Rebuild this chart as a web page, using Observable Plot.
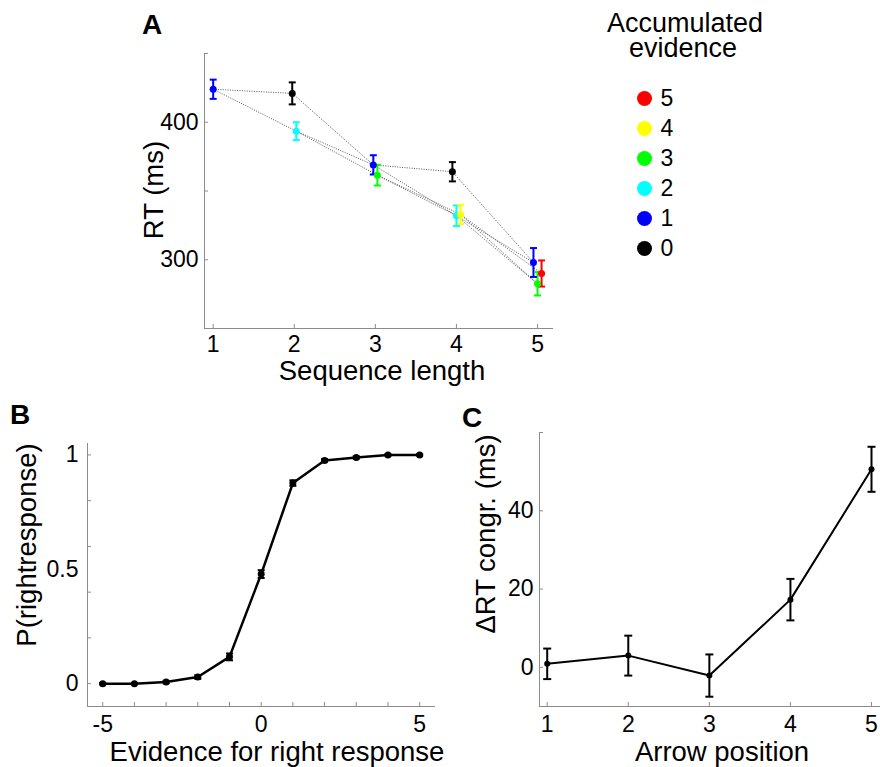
<!DOCTYPE html>
<html><head><meta charset="utf-8">
<script src="https://cdn.jsdelivr.net/npm/d3@7"></script>
<script src="https://cdn.jsdelivr.net/npm/@observablehq/plot@0.6"></script>
<style>
html,body{margin:0;padding:0;background:#fff;}
#root{position:relative;width:880px;height:767px;overflow:hidden;font-family:"Liberation Sans",Arial,sans-serif;color:#000;background:#fff;}
.lbl{position:absolute;white-space:nowrap;line-height:1;}
.plot{position:absolute;}
</style></head><body><div id="root"></div>
<script>
// ---------- Panel A data ----------
const aSeqLength = [1, 2, 2, 3, 3, 4, 4, 4, 5, 5, 5];
const aEvidence  = [1, 0, 2, 1, 3, 0, 2, 4, 1, 3, 5];
const aRT        = [424, 421, 393.5, 369, 361.5, 364, 332, 333, 298, 282.5, 290];
const aErr       = [7, 8, 6.5, 7, 7.5, 7, 7.5, 7, 10.5, 8.5, 9.5];
const aXTicks = [1, 2, 3, 4, 5];
const aYTicks = [250, 300, 350, 400, 450];
const aYLabels = [300, 400];

// legend
const evidenceLevels = [5, 4, 3, 2, 1, 0];
const evidenceColors = ["#ff0000", "#ffff00", "#00ff00", "#00ffff", "#0000ff", "#000000"];

// ---------- Panel B data ----------
const bEvidence = [-5, -4, -3, -2, -1, 0, 1, 2, 3, 4, 5];
const bP        = [0, 0, 0.007, 0.029, 0.117, 0.479, 0.877, 0.976, 0.989, 1.0, 1.0];
const bErr      = [0.003, 0.003, 0.005, 0.008, 0.015, 0.017, 0.012, 0.006, 0.005, 0.003, 0.003];
const bXTicks = [-5, -4, -3, -2, -1, 0, 1, 2, 3, 4, 5];
const bXLabels = [-5, 0, 5];
const bYTicks = [0, 0.2, 0.4, 0.6, 0.8, 1];
const bYLabels = [0, 0.5, 1];

// ---------- Panel C data ----------
const cPosition = [1, 2, 3, 4, 5];
const cDeltaRT  = [0.9, 3.0, -2.1, 17.3, 50.6];
const cErr      = [3.9, 5.1, 5.4, 5.3, 5.75];
const cXTicks = [1, 2, 3, 4, 5];
const cYTicks = [0, 20, 40, 60];
const cYLabels = [0, 20, 40];

const root = document.getElementById("root");
const FONT = '"Liberation Sans", Arial, sans-serif';
const axisGray = "#8c8c8c";
const LABEL_SIZE = 27.5;

const capSymbol = {draw(ctx, size) { const r = Math.sqrt(size / Math.PI); ctx.moveTo(-r, 0); ctx.lineTo(r, 0); }};

function place(svg, left, top) {
  svg.classList.add("plot");
  svg.style.left = left + "px";
  svg.style.top = top + "px";
  root.appendChild(svg);
}
function label(text, {x, y, size = LABEL_SIZE, bold = false, rotate = false, center = true, lh = null}) {
  const d = document.createElement("div");
  d.className = "lbl";
  d.textContent = text;
  d.style.fontSize = size + "px";
  if (lh) d.style.lineHeight = lh + "px";
  if (bold) d.style.fontWeight = "bold";
  d.style.left = x + "px";
  d.style.top = y + "px";
  if (rotate) d.style.transform = "translate(-50%,-50%) rotate(-90deg)";
  else if (center) d.style.transform = "translateX(-50%)";
  root.appendChild(d);
}

function axesMarks({xd, yd, xTicks, yTicks, xLabels, yLabels, xPad, yPad}) {
  return [
    Plot.ruleX([xd[0]], {stroke: axisGray, strokeWidth: 1}),
    Plot.ruleY([yd[0]], {stroke: axisGray, strokeWidth: 1}),
    Plot.axisX({ticks: xTicks, tickSize: -4, stroke: axisGray, tickFormat: () => "", label: null}),
    Plot.axisY({ticks: yTicks, tickSize: -4, stroke: axisGray, tickFormat: () => "", label: null}),
    Plot.axisX({ticks: xLabels, tickSize: 0, tickPadding: xPad, fontSize: 23, fill: "#000", label: null, tickFormat: d => String(d)}),
    Plot.axisY({ticks: yLabels, tickSize: 0, tickPadding: yPad, fontSize: 23, fill: "#000", label: null, tickFormat: d => String(d)})
  ];
}

// ---------- Panel A ----------
const colorOf = e => evidenceColors[evidenceLevels.indexOf(e)];
const A = aSeqLength.map((n, i) => ({n, e: aEvidence[i], rt: aRT[i], err: aErr[i]}));
const meanE = d3.rollup(A, v => d3.mean(v, d => d.e), d => d.n);
A.forEach(d => { d.x = d.n + (d.e - meanE.get(d.n)) * 0.025; d.c = colorOf(d.e); });
const edges = [];
for (const a of A) for (const b of A) if (b.n === a.n + 1 && Math.abs(b.e - a.e) === 1) edges.push({a, b});

const axd = [0.893, 5.197], ayd = [250, 450];
const plotA = Plot.plot({
  width: 423, height: 318, marginLeft: 64, marginRight: 10, marginTop: 13, marginBottom: 30,
  x: {domain: axd}, y: {domain: ayd}, color: {type: "identity"},
  style: {fontFamily: FONT, fontSize: "23px", background: "transparent", overflow: "visible", color: "#000"},
  marks: [
    ...axesMarks({xd: axd, yd: ayd, xTicks: aXTicks, yTicks: aYTicks, xLabels: aXTicks, yLabels: aYLabels, xPad: 7, yPad: 6}),
    Plot.link(edges, {x1: d => d.a.x, y1: d => d.a.rt, x2: d => d.b.x, y2: d => d.b.rt, stroke: "#555", strokeWidth: 1, strokeDasharray: "1,1.4"}),
    Plot.ruleX(A, {x: "x", y1: d => d.rt - d.err, y2: d => d.rt + d.err, stroke: "c", strokeWidth: 2}),
    Plot.dot(A, {x: "x", y: d => d.rt - d.err, r: 3.5, symbol: capSymbol, stroke: "c", fill: "none", strokeWidth: 2}),
    Plot.dot(A, {x: "x", y: d => d.rt + d.err, r: 3.5, symbol: capSymbol, stroke: "c", fill: "none", strokeWidth: 2}),
    Plot.dot(A, {x: "x", y: "rt", r: 3.5, fill: "c", stroke: null})
  ]
});
place(plotA, 140, 40);

// legend
const legend = Plot.plot({
  width: 120, height: 190, margin: 0,
  y: {type: "point", domain: evidenceLevels, range: [17, 169], padding: 0, axis: null},
  color: {type: "identity"},
  style: {fontFamily: FONT, fontSize: "23px", background: "transparent", overflow: "visible"},
  marks: [
    Plot.dot(evidenceLevels, {y: d => d, frameAnchor: "left", dx: 24, r: 7.5, fill: (d, i) => evidenceColors[i], stroke: null}),
    Plot.text(evidenceLevels, {y: d => d, text: d => String(d), frameAnchor: "left", dx: 40, textAnchor: "start", fontSize: 23, fill: "#000"})
  ]
});
place(legend, 620, 80);

// ---------- Panel B ----------
const B = bEvidence.map((x, i) => ({x, p: bP[i], err: bErr[i]}));
const bxd = [-5.48, 5.5], byd = [-0.1, 1.05];
const plotB = Plot.plot({
  width: 440, height: 346, marginLeft: 87, marginRight: 5, marginTop: 43, marginBottom: 40,
  x: {domain: bxd}, y: {domain: byd},
  style: {fontFamily: FONT, fontSize: "23px", background: "transparent", overflow: "visible", color: "#000"},
  marks: [
    ...axesMarks({xd: bxd, yd: byd, xTicks: bXTicks, yTicks: bYTicks, xLabels: bXLabels, yLabels: bYLabels, xPad: 9, yPad: 9}),
    Plot.line(B, {x: "x", y: "p", stroke: "#000", strokeWidth: 2.5}),
    Plot.ruleX(B, {x: "x", y1: d => d.p - d.err, y2: d => d.p + d.err, stroke: "#000", strokeWidth: 2}),
    Plot.dot(B, {x: "x", y: d => d.p - d.err, r: 3.5, symbol: capSymbol, stroke: "#000", fill: "none", strokeWidth: 2}),
    Plot.dot(B, {x: "x", y: d => d.p + d.err, r: 3.5, symbol: capSymbol, stroke: "#000", fill: "none", strokeWidth: 2}),
    Plot.dot(B, {x: "x", y: "p", r: 3.5, fill: "#000", stroke: null})
  ]
});
place(plotB, 0, 400);

// ---------- Panel C ----------
const C = cPosition.map((x, i) => ({x, v: cDeltaRT[i], err: cErr[i]}));
const cxd = [0.905, 5.111], cyd = [-10, 60];
const plotC = Plot.plot({
  width: 440, height: 346, marginLeft: 99, marginRight: 0, marginTop: 32, marginBottom: 40,
  x: {domain: cxd}, y: {domain: cyd},
  style: {fontFamily: FONT, fontSize: "23px", background: "transparent", overflow: "visible", color: "#000"},
  marks: [
    ...axesMarks({xd: cxd, yd: cyd, xTicks: cXTicks, yTicks: cYTicks, xLabels: cXTicks, yLabels: cYLabels, xPad: 9, yPad: 6}),
    Plot.line(C, {x: "x", y: "v", stroke: "#000", strokeWidth: 2}),
    Plot.ruleX(C, {x: "x", y1: d => d.v - d.err, y2: d => d.v + d.err, stroke: "#000", strokeWidth: 2}),
    Plot.dot(C, {x: "x", y: d => d.v - d.err, r: 4, symbol: capSymbol, stroke: "#000", fill: "none", strokeWidth: 2}),
    Plot.dot(C, {x: "x", y: d => d.v + d.err, r: 4, symbol: capSymbol, stroke: "#000", fill: "none", strokeWidth: 2}),
    Plot.dot(C, {x: "x", y: "v", r: 3, fill: "#000", stroke: null})
  ]
});
place(plotC, 440, 400);

// ---------- texts ----------
label("A", {x: 142, y: 11, size: 28, bold: true, center: false});
label("B", {x: 10, y: 401, size: 28, bold: true, center: false});
label("C", {x: 462, y: 404, size: 28, bold: true, center: false});

label("RT (ms)", {x: 154, y: 190, rotate: true});
label("Sequence length", {x: 382, y: 357});
label("P(rightresponse)", {x: 27, y: 545, rotate: true});
label("Evidence for right response", {x: 277, y: 740, lh: 24});
label("\u0394RT congr. (ms)", {x: 486, y: 534, rotate: true});
label("Arrow position", {x: 722, y: 740, lh: 24});

label("Accumulated", {x: 685, y: 12, size: 27, lh: 23});
label("evidence", {x: 683, y: 37, size: 27, lh: 23});
</script>
</body></html>
